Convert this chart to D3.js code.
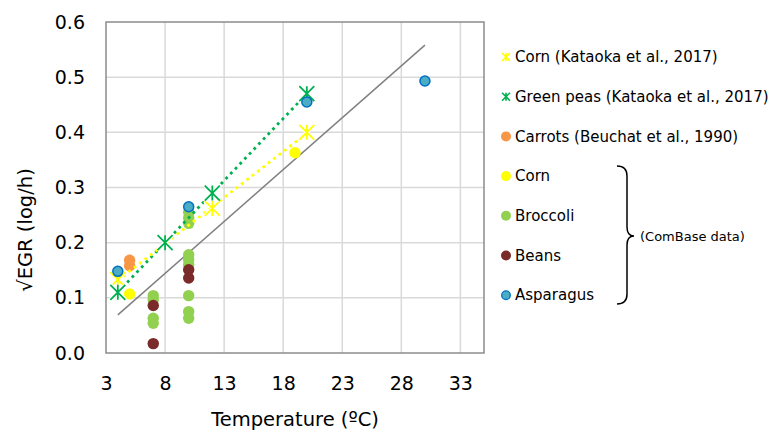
<!DOCTYPE html>
<html>
<head>
<meta charset="utf-8">
<script src="https://cdn.jsdelivr.net/npm/d3@7"></script>
<style>
  html, body { margin: 0; padding: 0; background: #fff; }
  svg { display: block; font-family: "DejaVu Sans", Verdana, sans-serif; }
</style>
</head>
<body>
<svg id="chart" width="771" height="433"></svg>
<script>
// ---- Data ----
const xTicks = [3, 8, 13, 18, 23, 28, 33];
const yTicks = [0, 0.1, 0.2, 0.3, 0.4, 0.5, 0.6];

const cornKataokaT = [4, 12, 20];
const cornKataoka  = [0.133, 0.262, 0.400];

const greenPeasT = [4, 8, 12, 20];
const greenPeas  = [0.110, 0.200, 0.290, 0.470];

const carrotsT = [5, 5];
const carrots  = [0.168, 0.158];

const cornT = [5, 19];
const corn  = [0.107, 0.363];

const broccoliT = [7, 7, 7, 7, 10, 10, 10, 10, 10, 10, 10, 10, 10];
const broccoli  = [0.104, 0.097, 0.063, 0.054, 0.255, 0.245, 0.235, 0.178, 0.169, 0.160, 0.104, 0.075, 0.063];

const beansT = [7, 7, 10, 10];
const beans  = [0.086, 0.017, 0.151, 0.136];

const asparagusT = [4, 10, 20, 30];
const asparagus  = [0.148, 0.265, 0.455, 0.493];

const modelT = [4, 30];
const modelV = [0.069, 0.558];

const legendLabels = [
  "Corn (Kataoka et al., 2017)",
  "Green peas (Kataoka et al., 2017)",
  "Carrots (Beuchat et al., 1990)",
  "Corn",
  "Broccoli",
  "Beans",
  "Asparagus"
];

// ---- Setup ----
const svg = d3.select("#chart");
const L = 106, R = 484, T = 22, B = 353;
const x = d3.scaleLinear().domain([3, 35]).range([L, R]);
const y = d3.scaleLinear().domain([0, 0.6]).range([B, T]);

const C = {
  yellow: "#ffff00", green: "#00b050", orange: "#f79646",
  broccoli: "#92d050", beans: "#7b2a2a", aspFill: "#4bacc6", aspStroke: "#0070c0"
};

// gridlines
svg.append("g").selectAll("line").data(xTicks.slice(1)).join("line")
  .attr("x1", d => x(d)).attr("x2", d => x(d)).attr("y1", T).attr("y2", B)
  .attr("stroke", "#d9d9d9").attr("stroke-width", 1.5);
svg.append("g").selectAll("line").data(yTicks.slice(1, -1)).join("line")
  .attr("x1", L).attr("x2", R).attr("y1", d => y(d)).attr("y2", d => y(d))
  .attr("stroke", "#d9d9d9").attr("stroke-width", 1.5);
// border
svg.append("rect").attr("x", L).attr("y", T).attr("width", R - L).attr("height", B - T)
  .attr("fill", "none").attr("stroke", "#8c8c8c").attr("stroke-width", 1.5);

// axes
const xAxis = svg.append("g").attr("transform", `translate(0,${B})`)
  .call(d3.axisBottom(x).tickValues(xTicks).tickSize(0).tickPadding(24).tickFormat(d3.format("d")));
const yAxis = svg.append("g").attr("transform", `translate(${L},0)`)
  .call(d3.axisLeft(y).tickValues(yTicks).tickSize(0).tickPadding(21).tickFormat(d3.format(".1f")));
[xAxis, yAxis].forEach(g => {
  g.select(".domain").remove();
  g.selectAll("text").attr("font-size", 19).attr("fill", "#000").attr("font-family", "DejaVu Sans, Verdana, sans-serif");
});

// axis titles
svg.append("text").attr("x", (L + R) / 2).attr("y", 426).attr("text-anchor", "middle")
  .attr("font-size", 19.5).text("Temperature (ºC)");
svg.append("text").attr("transform", "translate(32,230) rotate(-90)")
  .attr("text-anchor", "middle").attr("font-size", 19.5).text("√EGR (log/h)");

// model line
svg.append("line").attr("x1", x(modelT[0])).attr("y1", y(modelV[0]))
  .attr("x2", x(modelT[1])).attr("y2", y(modelV[1]))
  .attr("stroke", "#808080").attr("stroke-width", 1.5);

// circles helper
function dots(ts, vs, fill, r, stroke) {
  svg.append("g").selectAll("circle").data(ts.map((t, i) => [t, vs[i]])).join("circle")
    .attr("cx", d => x(d[0])).attr("cy", d => y(d[1])).attr("r", r)
    .attr("fill", fill).attr("stroke", stroke || "none").attr("stroke-width", stroke ? 1.5 : 0);
}
dots(broccoliT, broccoli, C.broccoli, 5.7);
dots(beansT, beans, C.beans, 5.7);
dots(carrotsT, carrots, C.orange, 5.7);
dots(cornT, corn, C.yellow, 5.7);

// linear trendlines (least squares of the series)
function trend(ts, vs, color) {
  const reg = d3.mean(ts), mv = d3.mean(vs);
  const sxy = d3.sum(ts, (t, i) => (t - reg) * (vs[i] - mv));
  const sxx = d3.sum(ts, t => (t - reg) ** 2);
  const m = sxy / sxx, b = mv - m * reg;
  const [t0, t1] = d3.extent(ts);
  svg.append("line").attr("x1", x(t0)).attr("y1", y(m * t0 + b))
    .attr("x2", x(t1)).attr("y2", y(m * t1 + b))
    .attr("stroke", color).attr("stroke-width", 2.8).attr("stroke-dasharray", "2.8 4");
}
trend(greenPeasT, greenPeas, C.green);
trend(cornKataokaT, cornKataoka, C.yellow);

// star marker path
function starPath(s) {
  return `M${-s},${-s}L${s},${s}M${-s},${s}L${s},${-s}M0,${-s}L0,${s}`;
}
function stars(ts, vs, color, s) {
  const g = svg.append("g");
  const data = ts.map((t, i) => [t, vs[i]]);
  g.selectAll("path.halo").data(data).join("path").attr("class", "halo")
    .attr("transform", d => `translate(${x(d[0])},${y(d[1])})`)
    .attr("d", starPath(s)).attr("stroke", "#fff").attr("stroke-width", 4).attr("fill", "none");
  g.selectAll("path.st").data(data).join("path").attr("class", "st")
    .attr("transform", d => `translate(${x(d[0])},${y(d[1])})`)
    .attr("d", starPath(s)).attr("stroke", color).attr("stroke-width", 1.8).attr("fill", "none");
}
stars(cornKataokaT, cornKataoka, C.yellow, 7.5);
stars(greenPeasT, greenPeas, C.green, 7.5);

dots(asparagusT, asparagus, C.aspFill, 5, C.aspStroke);

// legend
const legY0 = 57, legStep = 39.7, legX = 506;
const leg = svg.append("g");
legendLabels.forEach((lab, i) => {
  const cy = legY0 + i * legStep;
  if (i < 2) {
    leg.append("path").attr("transform", `translate(${legX},${cy})`)
      .attr("d", starPath(4)).attr("stroke", i === 0 ? C.yellow : C.green)
      .attr("stroke-width", 1.6).attr("fill", "none");
  } else {
    const fills = [null, null, C.orange, C.yellow, C.broccoli, C.beans, C.aspFill];
    leg.append("circle").attr("cx", legX).attr("cy", cy).attr("r", i === 6 ? 4.3 : 5)
      .attr("fill", fills[i]).attr("stroke", i === 6 ? C.aspStroke : "none").attr("stroke-width", 1.3);
  }
  leg.append("text").attr("x", legX + 9).attr("y", cy).attr("dy", "0.35em")
    .attr("font-size", 15).text(lab);
});

// brace
svg.append("path")
  .attr("d", "M617,166 Q627,166 627,176 L627,227 Q627,236 634,236 Q627,236 627,245 L627,294 Q627,304 617,304")
  .attr("fill", "none").attr("stroke", "#000").attr("stroke-width", 1.5);
svg.append("text").attr("x", 640).attr("y", 236).attr("dy", "0.35em").attr("font-size", 13)
  .text("(ComBase data)");
</script>
</body>
</html>
